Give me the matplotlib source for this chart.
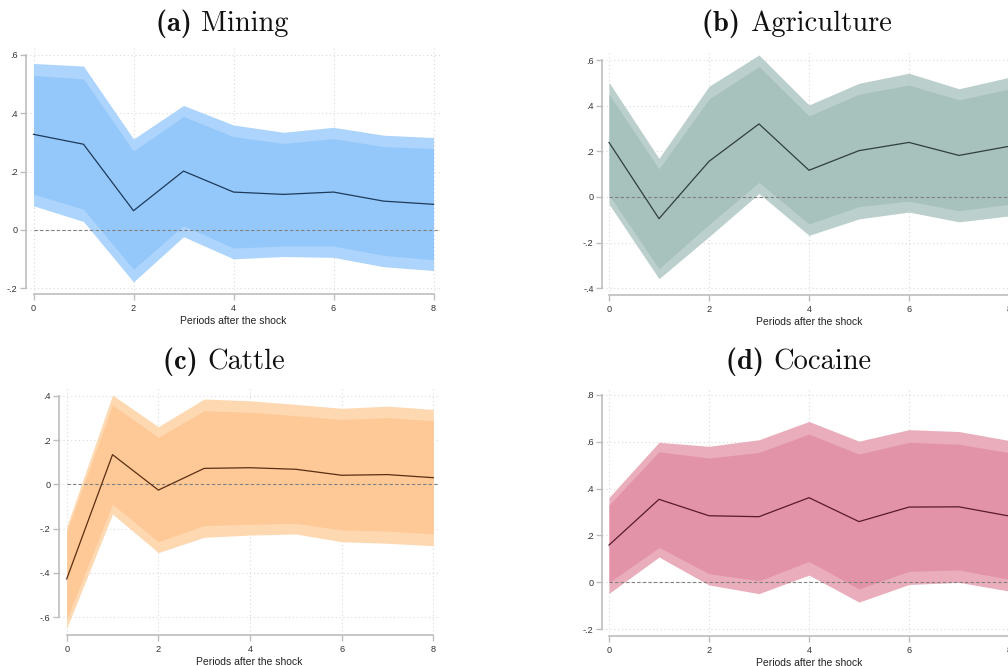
import numpy as np
import matplotlib
matplotlib.use('Agg')
import matplotlib.pyplot as plt
from matplotlib.ticker import FuncFormatter

#%% data
periods = [0, 1, 2, 3, 4, 5, 6, 7, 8]

mining_mean = [0.328, 0.294, 0.066, 0.202, 0.130, 0.122, 0.130, 0.099, 0.088]
mining_hi90 = [0.571, 0.562, 0.312, 0.427, 0.360, 0.335, 0.352, 0.325, 0.317]
mining_hi68 = [0.530, 0.518, 0.271, 0.389, 0.320, 0.297, 0.313, 0.286, 0.279]
mining_lo68 = [0.123, 0.071, -0.135, 0.015, -0.062, -0.055, -0.055, -0.087, -0.102]
mining_lo90 = [0.083, 0.029, -0.178, -0.023, -0.099, -0.091, -0.094, -0.126, -0.139]

agri_mean = [0.239, -0.095, 0.156, 0.320, 0.117, 0.203, 0.239, 0.182, 0.222]
agri_hi90 = [0.502, 0.169, 0.485, 0.622, 0.403, 0.498, 0.542, 0.474, 0.524]
agri_hi68 = [0.450, 0.123, 0.429, 0.571, 0.355, 0.450, 0.490, 0.425, 0.473]
agri_lo68 = [0.009, -0.314, -0.120, 0.064, -0.118, -0.042, -0.018, -0.060, -0.032]
agri_lo90 = [-0.031, -0.358, -0.174, 0.015, -0.168, -0.096, -0.066, -0.109, -0.083]

cattle_mean = [-0.427, 0.134, -0.026, 0.072, 0.075, 0.068, 0.041, 0.044, 0.030]
cattle_hi90 = [-0.191, 0.403, 0.260, 0.385, 0.377, 0.361, 0.343, 0.353, 0.338]
cattle_hi68 = [-0.214, 0.358, 0.212, 0.332, 0.325, 0.310, 0.293, 0.301, 0.287]
cattle_lo68 = [-0.609, -0.090, -0.259, -0.186, -0.180, -0.176, -0.206, -0.211, -0.224]
cattle_lo90 = [-0.650, -0.134, -0.308, -0.239, -0.229, -0.224, -0.259, -0.266, -0.277]

coca_mean = [0.159, 0.354, 0.284, 0.280, 0.361, 0.259, 0.321, 0.322, 0.283]
coca_hi90 = [0.362, 0.597, 0.580, 0.608, 0.686, 0.602, 0.651, 0.643, 0.605]
coca_hi68 = [0.330, 0.557, 0.530, 0.554, 0.632, 0.547, 0.597, 0.589, 0.553]
coca_lo68 = [-0.001, 0.149, 0.037, 0.007, 0.089, -0.028, 0.047, 0.053, 0.013]
coca_lo90 = [-0.047, 0.108, -0.011, -0.048, 0.031, -0.084, -0.009, 0.000, -0.037]

panel_tags = ['(a)', '(b)', '(c)', '(d)']
panel_names = ['Mining', 'Agriculture', 'Cattle', 'Cocaine']
yticks_a = [-0.2, 0, 0.2, 0.4, 0.6]
yticks_b = [-0.4, -0.2, 0, 0.2, 0.4, 0.6]
yticks_c = [-0.6, -0.4, -0.2, 0, 0.2, 0.4]
yticks_d = [-0.2, 0, 0.2, 0.4, 0.6, 0.8]
xticks = [0, 2, 4, 6, 8]
xlabel = 'Periods after the shock'

#%% functions
W, H = 1008, 666


def stata_fmt(v, pos=None):
    if abs(v) < 1e-9:
        return '0'
    s = '{:.1f}'.format(v)
    return s.replace('0.', '.')


def make_axes(fig, x0px, x8px, yhi, yhi_px, ylo, ylo_px, xlim, ylim):
    # place axes so the data lands on the same pixels as the reference
    sx = (x8px - x0px) / 8.0
    sy = (ylo_px - yhi_px) / (yhi - ylo)
    left = x0px + xlim[0] * sx
    right = x0px + xlim[1] * sx
    top = yhi_px - (ylim[1] - yhi) * sy
    bottom = ylo_px + (ylo - ylim[0]) * sy
    ax = fig.add_axes([left / W, 1 - bottom / H, (right - left) / W, (bottom - top) / H])
    ax.set_xlim(xlim)
    ax.set_ylim(ylim)
    return ax


def irf_panel(ax, mean, hi90, hi68, lo68, lo90, yticks, c_out, c_in, c_line):
    ax.fill_between(periods, lo90, hi90, color=c_out, lw=0, zorder=2)
    ax.fill_between(periods, lo68, hi68, color=c_in, lw=0, zorder=3)
    ax.plot(periods, mean, color=c_line, lw=0.9, zorder=5)
    x0, x1 = ax.get_xlim()
    ax.axhline(0, xmin=(0 - x0) / (x1 - x0), xmax=1, color='#808080',
               lw=0.8, ls=(0, (3, 2)), zorder=4)

    ax.set_xticks(xticks)
    ax.set_yticks(yticks)
    ax.yaxis.set_major_formatter(FuncFormatter(stata_fmt))
    ax.grid(True, ls=(0, (1, 2.5)), color='#dadada', lw=0.8, zorder=0)
    ax.set_axisbelow(True)

    for side in ['top', 'right']:
        ax.spines[side].set_visible(False)
    for side in ['left', 'bottom']:
        ax.spines[side].set_color('#bdbdbd')
        ax.spines[side].set_linewidth(1.2)
    ax.spines['left'].set_bounds(min(yticks), max(yticks))
    ax.spines['bottom'].set_bounds(0, 8)
    ax.tick_params(axis='both', colors='#bdbdbd', length=4, width=1.0,
                   labelcolor='#333333', labelsize=6.6)
    ax.tick_params(axis='x', pad=3)
    ax.tick_params(axis='y', pad=2)
    for lab in ax.get_xticklabels() + ax.get_yticklabels():
        lab.set_fontfamily('Liberation Sans')
    ax.set_xlabel(xlabel, fontsize=7.5, family='Liberation Sans',
                  color='#222222', labelpad=2)


def panel_title(fig, renderer, tag, name, cx, by, size=20.5):
    # bold tag + regular name, centred together at cx (pixels), baseline by
    t1 = fig.text(0, 1 - by / H, tag + ' ', ha='left', va='baseline',
                  fontsize=size, family='cmb10', color='#111111')
    t2 = fig.text(0, 1 - by / H, name, ha='left', va='baseline',
                  fontsize=size, family='cmr10', color='#111111')
    w1 = t1.get_window_extent(renderer).width
    w2 = t2.get_window_extent(renderer).width
    start = cx - (w1 + w2) / 2.0
    t1.set_x(start / W)
    t2.set_x((start + w1) / W)


#%% plot
fig = plt.figure(figsize=(W / 100, H / 100), dpi=100)

ax_a = make_axes(fig, 33.5, 433.5, 0.6, 55, -0.2, 288.3, (-0.15, 8.13), (-0.22, 0.625))
irf_panel(ax_a, mining_mean, mining_hi90, mining_hi68, mining_lo68, mining_lo90,
          yticks_a, '#acd4fc', '#95c8fa', '#1d3a5a')

ax_b = make_axes(fig, 609, 1009, 0.6, 60, -0.4, 288.3, (-0.14, 8.13), (-0.43, 0.63))
irf_panel(ax_b, agri_mean, agri_hi90, agri_hi68, agri_lo68, agri_lo90,
          yticks_b, '#bbcfcc', '#a7c1bd', '#2f3f3c')

ax_c = make_axes(fig, 66.7, 433.3, 0.4, 395.7, -0.6, 617.3, (-0.17, 8.13), (-0.68, 0.435))
irf_panel(ax_c, cattle_mean, cattle_hi90, cattle_hi68, cattle_lo68, cattle_lo90,
          yticks_c, '#fed8b1', '#fec997', '#5a2e12')

ax_d = make_axes(fig, 609, 1009, 0.8, 394.7, -0.2, 629.3, (-0.14, 8.13), (-0.23, 0.83))
irf_panel(ax_d, coca_mean, coca_hi90, coca_hi68, coca_lo68, coca_lo90,
          yticks_d, '#eaadbb', '#e293a8', '#5a1a2e')

# panel titles (computer modern like LaTeX)
renderer = fig.canvas.get_renderer()
title_pos = [(222, 31), (797, 31), (224, 369), (799, 369)]
for tag, name, (px, py) in zip(panel_tags, panel_names, title_pos):
    panel_title(fig, renderer, tag, name, px, py)

plt.savefig('out.png', dpi=100)
